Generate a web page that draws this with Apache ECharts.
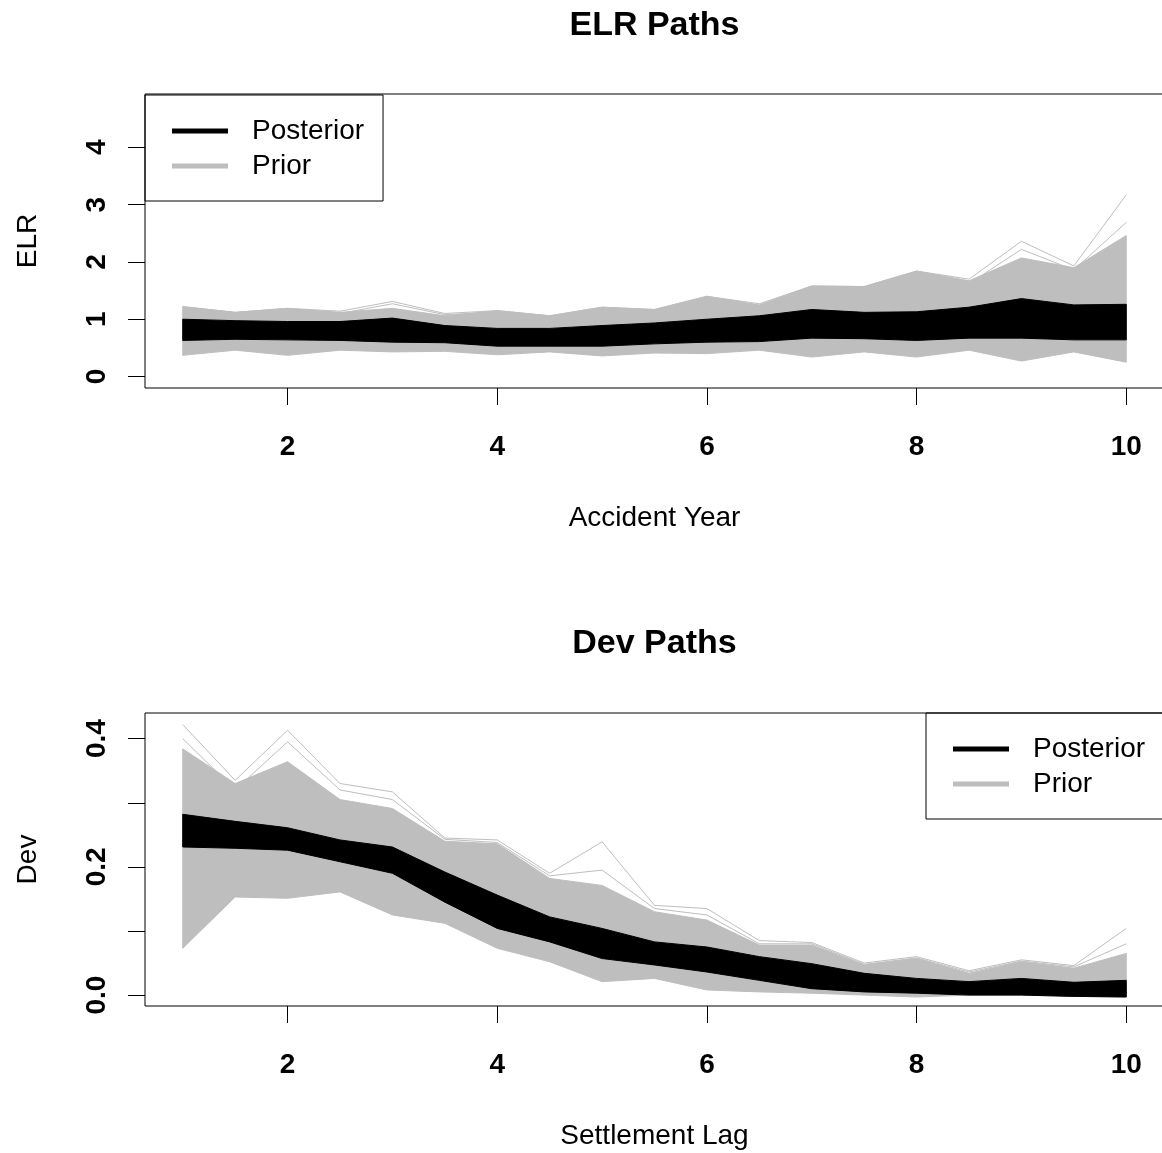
<!DOCTYPE html>
<html><head><meta charset="utf-8">
<script src="https://cdn.jsdelivr.net/npm/echarts@6/dist/echarts.min.js"></script>
<style>html,body{margin:0;padding:0;background:#fff}#c{width:1162px;height:1153px}</style>
</head><body><div id="c"></div>
<script>
// ---- data ----
const steps = [1,1.5,2,2.5,3,3.5,4,4.5,5,5.5,6,6.5,7,7.5,8,8.5,9,9.5,10];
const xTicks = [2,4,6,8,10];
const elrTicks = [0,1,2,3,4];
const devTicks = [0,0.1,0.2,0.3,0.4];
const devLabels = [0,0.2,0.4];

// ELR paths: envelope of prior (grey) and posterior (black) paths
const elrPriorHi = [1.22,1.12,1.19,1.12,1.19,1.06,1.15,1.06,1.21,1.17,1.40,1.25,1.58,1.57,1.84,1.67,2.07,1.90,2.46];
const elrPriorLo = [0.37,0.46,0.37,0.46,0.43,0.44,0.38,0.43,0.36,0.41,0.40,0.46,0.34,0.43,0.34,0.46,0.27,0.43,0.25];
const elrPostHi  = [1.00,0.975,0.96,0.96,1.02,0.89,0.84,0.84,0.89,0.935,1.00,1.06,1.17,1.12,1.13,1.21,1.36,1.25,1.26];
const elrPostLo  = [0.63,0.65,0.64,0.63,0.60,0.59,0.53,0.53,0.53,0.57,0.60,0.61,0.67,0.66,0.63,0.67,0.67,0.64,0.64];
const elrPriorOut1 = [1.22,1.12,1.19,1.14,1.31,1.10,1.15,1.06,1.21,1.17,1.40,1.27,1.58,1.57,1.84,1.70,2.36,1.93,3.17];
const elrPriorOut2 = [1.20,1.10,1.17,1.10,1.27,1.08,1.12,1.05,1.18,1.15,1.33,1.24,1.52,1.50,1.76,1.62,2.22,1.86,2.69];

// Dev paths
const devPriorHi = [0.384,0.330,0.364,0.305,0.291,0.240,0.236,0.182,0.171,0.130,0.117,0.078,0.078,0.047,0.057,0.034,0.052,0.042,0.065];
const devPriorLo = [0.073,0.153,0.151,0.161,0.125,0.112,0.073,0.052,0.021,0.026,0.008,0.005,0.003,0.000,-0.003,0.000,0.000,-0.002,-0.003];
const devPostHi  = [0.282,0.271,0.261,0.242,0.231,0.192,0.156,0.122,0.104,0.083,0.075,0.060,0.049,0.034,0.026,0.021,0.026,0.020,0.023];
const devPostLo  = [0.231,0.229,0.226,0.208,0.190,0.145,0.104,0.083,0.057,0.047,0.036,0.023,0.010,0.005,0.003,0.000,0.000,-0.002,-0.003];
const devPriorOut1 = [0.422,0.335,0.413,0.330,0.317,0.245,0.242,0.190,0.239,0.140,0.135,0.085,0.082,0.050,0.060,0.038,0.055,0.046,0.104];
const devPriorOut2 = [0.400,0.320,0.395,0.320,0.305,0.243,0.238,0.186,0.195,0.135,0.125,0.080,0.080,0.048,0.058,0.036,0.053,0.044,0.080];

// ---- styling ----
const FONT = "'Liberation Sans', Arial, sans-serif";
const GREY = '#BEBEBE';

function band(name, lo, hi, color, gi) {
  return {
    name: name, type: 'custom', xAxisIndex: gi, yAxisIndex: gi,
    itemStyle: { color: color }, clip: true, silent: true,
    encode: { x: 0, y: [1, 2] },
    data: steps.map((x, i) => [x, lo[i], hi[i]]),
    renderItem: function (params, api) {
      if (params.dataIndex !== 0) return null;
      const n = params.dataInsideLength;
      const top = [], bot = [];
      for (let k = 0; k < n; k++) {
        const x = api.value(0, k);
        top.push(api.coord([x, api.value(2, k)]));
        bot.push(api.coord([x, api.value(1, k)]));
      }
      const pts = top.concat(bot.reverse());
      return { type: 'polygon', shape: { points: pts },
        style: { fill: color, stroke: color, lineWidth: 1 } };
    }
  };
}
function path(name, vals, color, gi) {
  return {
    name: name, type: 'line', xAxisIndex: gi, yAxisIndex: gi,
    data: steps.map((x, i) => [x, vals[i]]), symbol: 'none', silent: true,
    itemStyle: { color: color }, lineStyle: { color: color, width: 1 }, z: 2
  };
}
function xAxis(gi, name) {
  return {
    gridIndex: gi, type: 'value', min: 0.64, max: 10.36,
    axisLine: { show: false, onZero: false },
    axisTick: { show: true, length: 17, customValues: xTicks, lineStyle: { color: '#000', width: 1 } },
    axisLabel: { customValues: xTicks, fontSize: 28, fontWeight: 'bold', color: '#000', margin: 45, fontFamily: FONT },
    splitLine: { show: false },
    name: name, nameLocation: 'middle', nameGap: 116,
    nameTextStyle: { fontSize: 28, color: '#000', fontFamily: FONT }
  };
}
function yAxis(gi, name, min, max, ticks, labels, fmt) {
  return {
    gridIndex: gi, type: 'value', min: min, max: max,
    axisLine: { show: false, onZero: false },
    axisTick: { show: true, length: 17, customValues: ticks, lineStyle: { color: '#000', width: 1 } },
    axisLabel: { customValues: labels, rotate: 90, fontSize: 28, fontWeight: 'bold', color: '#000', margin: 34, fontFamily: FONT, formatter: fmt },
    splitLine: { show: false },
    name: name, nameLocation: 'middle', nameGap: 103, nameRotate: 90,
    nameTextStyle: { fontSize: 28, color: '#000', fontFamily: FONT }
  };
}
function legend(left, top) {
  return {
    data: ['Posterior', 'Prior'], orient: 'vertical', left: left, top: top,
    padding: [22, 19, 21, 27], itemGap: 7, itemWidth: 56, itemHeight: 5, icon: 'rect',
    borderColor: '#000', borderWidth: 1, borderRadius: 0, selectedMode: false,
    textStyle: { fontSize: 28, color: '#000', fontFamily: FONT, padding: [0, 0, 0, 19] }
  };
}

const chart = echarts.init(document.getElementById('c'), null, { renderer: 'canvas' });
chart.setOption({
  animation: false,
  backgroundColor: '#fff',
  title: [
    { text: 'ELR Paths', left: 654.5, top: 9, padding: 0, textAlign: 'center',
      textStyle: { fontSize: 34, fontWeight: 'bold', color: '#000', fontFamily: FONT } },
    { text: 'Dev Paths', left: 654.5, top: 627, padding: 0, textAlign: 'center',
      textStyle: { fontSize: 34, fontWeight: 'bold', color: '#000', fontFamily: FONT } }
  ],
  legend: [legend(145, 95), legend(926, 713)],
  grid: [
    { left: 145, top: 94, width: 1019, height: 294, show: true, borderColor: '#000', borderWidth: 1, backgroundColor: 'transparent', containLabel: false, outerBoundsMode: 'none' },
    { left: 145, top: 713, width: 1019, height: 293, show: true, borderColor: '#000', borderWidth: 1, backgroundColor: 'transparent', containLabel: false, outerBoundsMode: 'none' }
  ],
  xAxis: [xAxis(0, 'Accident Year'), xAxis(1, 'Settlement Lag')],
  yAxis: [
    yAxis(0, 'ELR', -0.2, 4.93, elrTicks, elrTicks, v => String(v)),
    yAxis(1, 'Dev', -0.017, 0.44, devTicks, devLabels, v => Number(v).toFixed(1))
  ],
  series: [
    band('Prior', elrPriorLo, elrPriorHi, GREY, 0),
    path('Prior', elrPriorOut1, GREY, 0),
    path('Prior', elrPriorOut2, GREY, 0),
    band('Posterior', elrPostLo, elrPostHi, '#000', 0),
    band('Prior', devPriorLo, devPriorHi, GREY, 1),
    path('Prior', devPriorOut1, GREY, 1),
    path('Prior', devPriorOut2, GREY, 1),
    band('Posterior', devPostLo, devPostHi, '#000', 1)
  ]
});
</script></body></html>
